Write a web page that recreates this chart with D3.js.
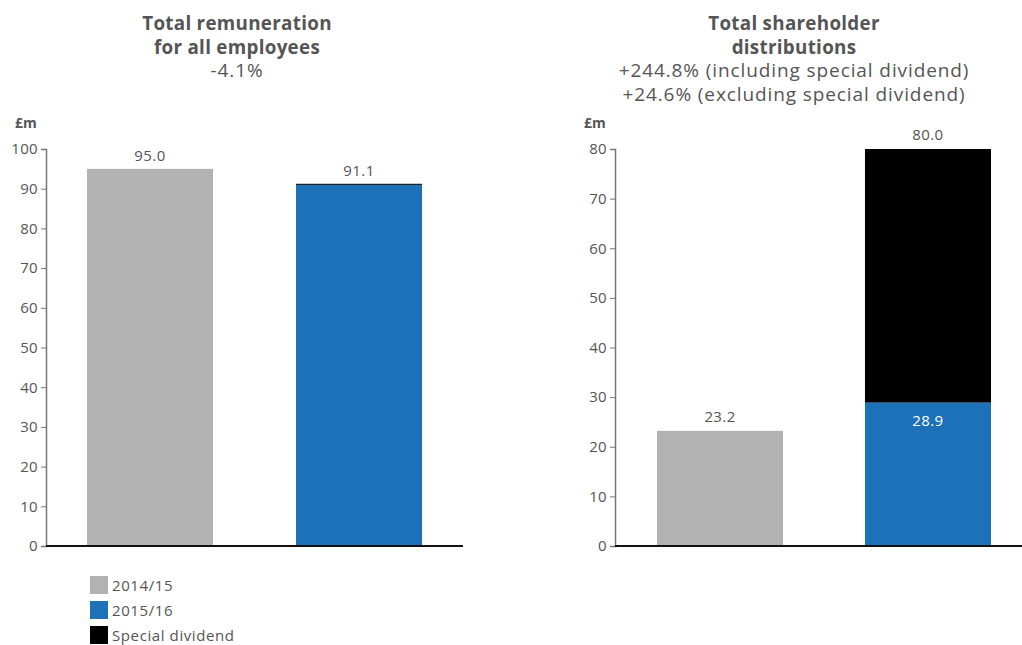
<!DOCTYPE html>
<html>
<head>
<meta charset="utf-8">
<script src="https://cdn.jsdelivr.net/npm/d3@7"></script>
<style>
  body { margin: 0; background: #fff; }
  text { font-family: "Open Sans", sans-serif; fill: #555; }
</style>
</head>
<body>
<div id="main"></div>
<script>
/* Define Size */
const width = 1022, height = 645;

/* Define Data */
const years = ["2014/15", "2015/16"];
const remuneration = [95.0, 91.1];
const distributions = [23.2, 28.9];
const specialDividend = [0, 51.1];
const distributionTotals = [23.2, 80.0];
const remTicks = [0, 10, 20, 30, 40, 50, 60, 70, 80, 90, 100];
const distTicks = [0, 10, 20, 30, 40, 50, 60, 70, 80];
const legendLabels = ["2014/15", "2015/16", "Special dividend"];
const colors = ["#b2b2b2", "#1c71b8", "#000000"];

const svg = d3.select("#main").append("svg")
  .attr("width", width).attr("height", height);

function drawAxis(g, y, ticks, x0, x1) {
  const ax = g.append("g").attr("transform", `translate(${x0},0)`)
    .call(d3.axisLeft(y).tickValues(ticks).tickSize(5).tickPadding(3).tickFormat(d3.format("d")));
  ax.select(".domain").attr("stroke", "#777").attr("stroke-width", 1.5);
  ax.selectAll(".tick line").attr("stroke", "#777");
  ax.selectAll(".tick text").style("font-size", "15px").style("fill", "#555").style("letter-spacing", "0.3px");
  g.append("line")
    .attr("x1", x0).attr("x2", x1)
    .attr("y1", y(0)).attr("y2", y(0))
    .attr("stroke", "#111").attr("stroke-width", 2);
}

function title(lines, cx, boldCount) {
  lines.forEach((t, i) => {
    svg.append("text")
      .attr("x", cx).attr("y", 30 + i * 23.5)
      .attr("text-anchor", "middle")
      .style("font-size", i < boldCount ? "18.8px" : "19px")
      .style("font-weight", i < boldCount ? "700" : "400")
      .style("letter-spacing", i < boldCount ? "0.3px" : "0.9px")
      .text(t);
  });
}

/* Left chart */
const yL = d3.scaleLinear().domain([0, 100]).range([546, 149]);
const xL = d3.scaleBand().domain(years).range([46, 463]).paddingInner(0.397).paddingOuter(0.196);
const gL = svg.append("g");
gL.selectAll("rect.bar").data(remuneration).enter().append("rect")
  .attr("x", (d, i) => xL(years[i]))
  .attr("width", xL.bandwidth())
  .attr("y", d => yL(d))
  .attr("height", d => yL(0) - yL(d))
  .attr("fill", (d, i) => colors[i]);
// thin black cap on the 2015/16 bar
gL.append("line")
  .attr("x1", xL(years[1])).attr("x2", xL(years[1]) + xL.bandwidth())
  .attr("y1", yL(remuneration[1])).attr("y2", yL(remuneration[1]))
  .attr("stroke", "#222").attr("stroke-width", 1.2);
gL.selectAll("text.val").data(remuneration).enter().append("text")
  .attr("x", (d, i) => xL(years[i]) + xL.bandwidth() / 2)
  .attr("y", d => yL(d) - 8)
  .attr("text-anchor", "middle")
  .style("font-size", "15px").style("letter-spacing", "0.4px")
  .text(d => d.toFixed(1));
drawAxis(gL, yL, remTicks, 46, 463);
svg.append("text").attr("x", 15).attr("y", 128).style("font-size", "14px").style("font-weight", "700").text("£m");
title(["Total remuneration", "for all employees", "-4.1%"], 237, 2);

/* Right chart */
const yR = d3.scaleLinear().domain([0, 80]).range([546, 149]);
const xR = d3.scaleBand().domain(years).range([615, 1033]).paddingInner(0.394).paddingOuter(0.202);
const gR = svg.append("g");
gR.selectAll("rect.base").data(distributions).enter().append("rect")
  .attr("x", (d, i) => xR(years[i]))
  .attr("width", xR.bandwidth())
  .attr("y", d => yR(d))
  .attr("height", d => yR(0) - yR(d))
  .attr("fill", (d, i) => colors[i]);
gR.selectAll("rect.special").data(specialDividend).enter().append("rect")
  .attr("x", (d, i) => xR(years[i]))
  .attr("width", xR.bandwidth())
  .attr("y", (d, i) => yR(distributions[i] + d))
  .attr("height", d => yR(0) - yR(d))
  .attr("fill", colors[2]);
gR.selectAll("text.tot").data(distributionTotals).enter().append("text")
  .attr("x", (d, i) => xR(years[i]) + xR.bandwidth() / 2)
  .attr("y", d => yR(d) - 9)
  .attr("text-anchor", "middle")
  .style("font-size", "15px").style("letter-spacing", "0.4px")
  .text(d => d.toFixed(1));
gR.append("text")
  .attr("x", xR(years[1]) + xR.bandwidth() / 2)
  .attr("y", yR(distributions[1]) + 23)
  .attr("text-anchor", "middle")
  .style("font-size", "15px").style("letter-spacing", "0.4px").style("fill", "#fff")
  .text(distributions[1].toFixed(1));
drawAxis(gR, yR, distTicks, 615, 1022);
svg.append("text").attr("x", 584).attr("y", 128).style("font-size", "14px").style("font-weight", "700").text("£m");
title(["Total shareholder", "distributions", "+244.8% (including special dividend)", "+24.6% (excluding special dividend)"], 794, 2);

/* Legend */
const legend = svg.append("g");
legendLabels.forEach((l, i) => {
  legend.append("rect").attr("x", 90).attr("y", 576 + i * 25).attr("width", 18).attr("height", 18).attr("fill", colors[i]);
  legend.append("text").attr("x", 112).attr("y", 591 + i * 25).style("font-size", "15px").style("letter-spacing", "0.6px").text(l);
});
</script>
</body>
</html>
